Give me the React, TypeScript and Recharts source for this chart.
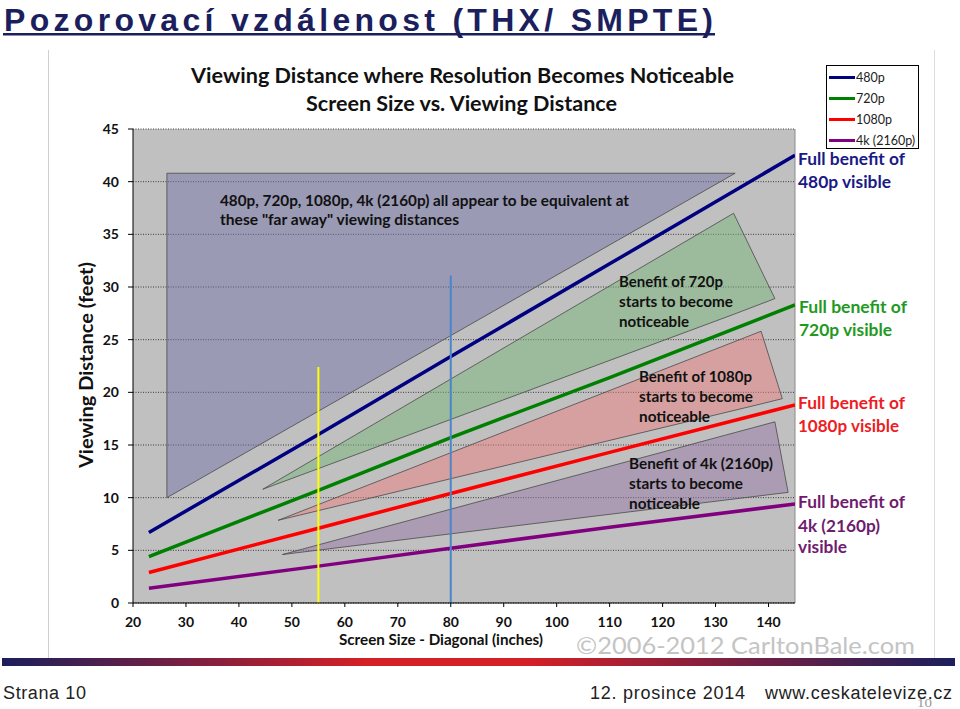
import React from 'react';
import { ComposedChart, Line, Area, XAxis, YAxis, CartesianGrid, ReferenceLine } from 'recharts';

// screen diagonals (inches) where the curves were read
const screenSizes = [23, 55, 80, 110, 145];
const dist480 = [6.7, 16.0, 23.4, 32.2, 42.5];
const dist720 = [4.4, 10.7, 15.7, 21.4, 28.3];
const dist1080 = [2.9, 7.1, 10.4, 14.3, 18.8];
const dist4k = [1.4, 3.5, 5.2, 7.2, 9.4];

const seriesNames = ['480p', '720p', '1080p', '4k (2160p)'];
const seriesKeys = ['r480', 'r720', 'r1080', 'r4k'];
const seriesColors = ['#000080', '#008000', '#ff0000', '#800080'];

// shaded zones: x, lower edge, upper edge
const farX = [26.4, 26.4, 133.7];
const farLow = [40.8, 10, 40.8];
const farHigh = [40.8, 40.8, 40.8];

const zone720X = [44.5, 133.4, 141.2];
const zone720Low = [10.8, 27.4, 28.9];
const zone720High = [10.8, 37.0, 28.9];

const zone1080X = [47.4, 138.6, 142.6];
const zone1080Low = [7.85, 18.9, 19.4];
const zone1080High = [7.85, 25.8, 19.4];

const zone4kX = [48.2, 141.2, 143.7];
const zone4kLow = [4.6, 10.35, 10.5];
const zone4kHigh = [4.6, 17.2, 10.5];

// vertical markers (55" and 80")
const markerX = [55, 80];
const markerTop = [22.4, 31.1];
const markerColors = ['#ffff00', '#4a86c8'];

const xTicks = [20, 30, 40, 50, 60, 70, 80, 90, 100, 110, 120, 130, 140];
const xMinorTicks = [20, 25, 30, 35, 40, 45, 50, 55, 60, 65, 70, 75, 80, 85, 90, 95, 100, 105, 110, 115, 120, 125, 130, 135, 140, 145];
const yTicks = [0, 5, 10, 15, 20, 25, 30, 35, 40, 45];
const yMinorTicks = [0, 2.5, 5, 7.5, 10, 12.5, 15, 17.5, 20, 22.5, 25, 27.5, 30, 32.5, 35, 37.5, 40, 42.5, 45];

const lineData = screenSizes.map((x, i) => ({
  x,
  r480: dist480[i],
  r720: dist720[i],
  r1080: dist1080[i],
  r4k: dist4k[i],
}));

const zone = (xs: number[], lo: number[], hi: number[]) => xs.map((x, i) => ({ x, range: [lo[i], hi[i]] }));

const zones = [
  { data: zone(farX, farLow, farHigh), fill: '#7474a8' },
  { data: zone(zone720X, zone720Low, zone720High), fill: '#78b478' },
  { data: zone(zone1080X, zone1080Low, zone1080High), fill: '#ec8080' },
  { data: zone(zone4kX, zone4kLow, zone4kHigh), fill: '#9678a6' },
];

const calibri = 'Lato, "Open Sans", sans-serif';
const arial = '"Liberation Sans", Arial, sans-serif';
const tickStyle = { fontFamily: calibri, fontWeight: 700, fontSize: 14, fill: '#111' };

const T = ({ x, y, w, size, color = '#111', weight = 700, family = calibri, anchor, adjust = 'spacingAndGlyphs', children }: any) => (
  <text
    x={x}
    y={y}
    fontFamily={family}
    fontWeight={weight}
    fontSize={size}
    fill={color}
    textLength={w}
    lengthAdjust={adjust}
    textAnchor={anchor}
  >
    {children}
  </text>
);

export default function App() {
  return (
    <div style={{ position: 'absolute', left: 0, top: 0, width: 960, height: 709, background: '#fff', overflow: 'hidden' }}>
      <svg width={960} height={709} style={{ position: 'absolute', left: 0, top: 0 }}>
        <defs>
          <linearGradient id="bar" x1="0" x2="1" y1="0" y2="0">
            <stop offset="0" stopColor="#1b1f5c" />
            <stop offset="0.38" stopColor="#d42027" />
            <stop offset="0.55" stopColor="#d42027" />
            <stop offset="1" stopColor="#1b1f5c" />
          </linearGradient>
        </defs>
        <line x1={48.5} y1={50} x2={48.5} y2={658} stroke="#cfcfcf" />
        <line x1={934.5} y1={50} x2={934.5} y2={658} stroke="#dcdcdc" />
        <rect x={2} y={658} width={953} height={8} fill="url(#bar)" />
      </svg>

      <div style={{ position: 'absolute', left: 0, top: 0 }}>
        <ComposedChart
          width={960}
          height={709}
          data={lineData}
          margin={{ top: 129, right: 165, bottom: 76, left: 73 }}
        >
          <CartesianGrid
            vertical={false}
            fill="#c0c0c0"
            fillOpacity={1}
            stroke="#3a3a3a"
            strokeDasharray="1 1.5"
          />
          <XAxis
            type="number"
            dataKey="x"
            domain={[20, 145]}
            ticks={xTicks}
            allowDataOverflow
            height={30}
            tickSize={4}
            tickMargin={10}
            tick={tickStyle}
            axisLine={{ stroke: '#000' }}
            tickLine={{ stroke: '#000' }}
          />
          <XAxis
            xAxisId="minor"
            type="number"
            domain={[20, 145]}
            ticks={xMinorTicks}
            allowDataOverflow
            mirror
            tick={false}
            tickSize={4}
            axisLine={false}
            tickLine={{ stroke: '#000' }}
          />
          <YAxis
            type="number"
            domain={[0, 45]}
            ticks={yTicks}
            allowDataOverflow
            width={60}
            tickSize={5}
            tickMargin={9}
            tick={tickStyle}
            axisLine={{ stroke: '#000' }}
            tickLine={{ stroke: '#000' }}
          />
          <YAxis
            yAxisId="minor"
            type="number"
            domain={[0, 45]}
            ticks={yMinorTicks}
            allowDataOverflow
            mirror
            tick={false}
            tickSize={4}
            axisLine={false}
            tickLine={{ stroke: '#000' }}
          />
          <ReferenceLine x={145} stroke="#8a8a8a" />
          {zones.map((z, i) => (
            <Area
              key={i}
              data={z.data}
              dataKey="range"
              type="linear"
              fill={z.fill}
              fillOpacity={0.5}
              stroke="#4a4a4a"
              strokeWidth={0.8}
              dot={false}
              activeDot={false}
              isAnimationActive={false}
            />
          ))}
          {seriesKeys.map((k, i) => (
            <Line
              key={k}
              dataKey={k}
              name={seriesNames[i]}
              type="linear"
              stroke={seriesColors[i]}
              strokeWidth={3.5}
              dot={false}
              activeDot={false}
              isAnimationActive={false}
            />
          ))}
          {markerX.map((x, i) => (
            <ReferenceLine
              key={x}
              segment={[{ x, y: 0 }, { x, y: markerTop[i] }]}
              stroke={markerColors[i]}
              strokeWidth={2}
            />
          ))}
        </ComposedChart>
      </div>

      <svg width={960} height={709} style={{ position: 'absolute', left: 0, top: 0, pointerEvents: 'none' }}>
        {/* slide title */}
        <T x={4} y={31} w={709} size={32} family={arial} color="#1c1f5e" adjust="spacing">
          Pozorovací vzdálenost (THX/ SMPTE)
        </T>
        <rect x={3} y={33} width={712} height={2.5} fill="#1c1f5e" />

        {/* chart titles */}
        <T x={191} y={83} w={543} size={20}>Viewing Distance where Resolution Becomes Noticeable</T>
        <T x={306} y={111} w={311} size={20}>Screen Size vs. Viewing Distance</T>

        {/* axis titles */}
        <g transform="translate(93,365) rotate(-90)">
          <T x={0} y={0} w={206} size={19} anchor="middle">Viewing Distance (feet)</T>
        </g>
        <T x={339} y={645} w={204} size={15}>Screen Size - Diagonal (inches)</T>

        {/* annotations inside plot */}
        <T x={220} y={206} w={409} size={15}>480p, 720p, 1080p, 4k (2160p) all appear to be equivalent at</T>
        <T x={220} y={225} w={239} size={15}>these "far away" viewing distances</T>

        <T x={619} y={287} w={104} size={15}>Benefit of 720p</T>
        <T x={619} y={307} w={114} size={15}>starts to become</T>
        <T x={619} y={327} w={70} size={15}>noticeable</T>

        <T x={639} y={382} w={113} size={15}>Benefit of 1080p</T>
        <T x={639} y={402} w={114} size={15}>starts to become</T>
        <T x={639} y={422} w={71} size={15}>noticeable</T>

        <T x={629} y={469} w={144} size={15}>Benefit of 4k (2160p)</T>
        <T x={629} y={489} w={114} size={15}>starts to become</T>
        <T x={629} y={509} w={71} size={15}>noticeable</T>

        {/* right-hand labels */}
        <T x={798} y={165} w={107} size={17} color="#1a1a86">Full benefit of</T>
        <T x={798} y={188} w={93} size={17} color="#1a1a86">480p visible</T>
        <T x={799} y={313} w={108} size={17} color="#1f9a1f">Full benefit of</T>
        <T x={799} y={336} w={93} size={17} color="#1f9a1f">720p visible</T>
        <T x={798} y={409} w={107} size={17} color="#ee1c24">Full benefit of</T>
        <T x={798} y={432} w={101} size={17} color="#ee1c24">1080p visible</T>
        <T x={798} y={508} w={107} size={17} color="#6f1c6f">Full benefit of</T>
        <T x={798} y={532} w={82} size={17} color="#6f1c6f">4k (2160p)</T>
        <T x={798} y={553} w={49} size={17} color="#6f1c6f">visible</T>

        {/* watermark */}
        <T x={576} y={654} w={339} size={23} weight={400} color="#c4c4c4">©2006-2012 CarltonBale.com</T>

        {/* footer */}
        <T x={3} y={699} w={83} size={18} weight={400} family={arial} color="#222" adjust="spacing">Strana 10</T>
        <T x={590} y={699} w={155} size={18} weight={400} family={arial} color="#222" adjust="spacing">12. prosince 2014</T>
        <T x={765} y={699} w={187} size={18} weight={400} family={arial} color="#222" adjust="spacing">www.ceskatelevize.cz</T>
        <T x={917} y={707} w={15} size={13} weight={400} family='"Liberation Serif", serif' color="#999">10</T>
      </svg>

      {/* legend */}
      <div
        style={{
          position: 'absolute',
          left: 826,
          top: 65,
          width: 93,
          height: 84,
          boxSizing: 'border-box',
          border: '1px solid #000',
          background: '#fff',
          fontFamily: calibri,
          fontSize: 12.5,
          color: '#222',
          paddingTop: 1,
        }}
      >
        {seriesNames.map((n, i) => (
          <div key={n} style={{ display: 'flex', alignItems: 'center', height: 21, lineHeight: '21px', whiteSpace: 'nowrap' }}>
            <div style={{ width: 26, height: 3, background: seriesColors[i], marginLeft: 2, marginRight: 1, flexShrink: 0 }} />
            <span>{n}</span>
          </div>
        ))}
      </div>
    </div>
  );
}
